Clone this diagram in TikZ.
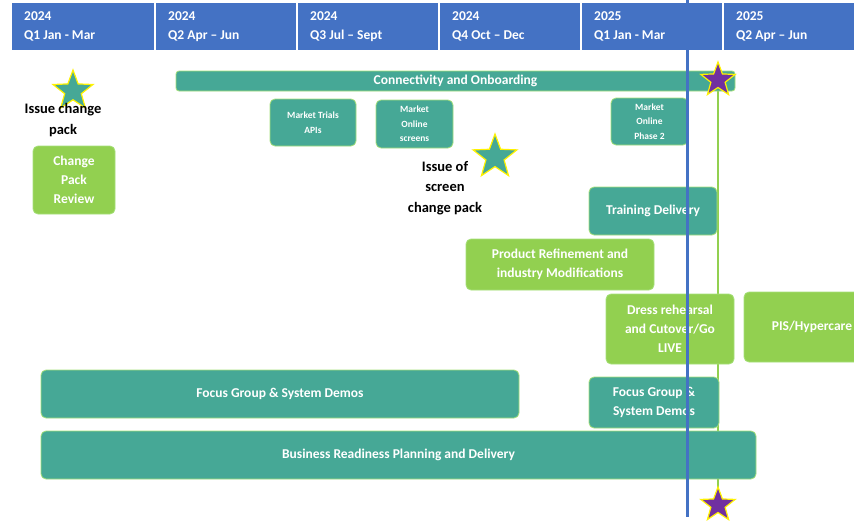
\documentclass[tikz,border=0pt]{standalone}
\usepackage{fontspec}
\setmainfont{Carlito}
\usetikzlibrary{shapes.geometric}

\definecolor{hdrblue}{HTML}{4472C4}
\definecolor{tealbox}{HTML}{46A896}
\definecolor{limebox}{HTML}{92D050}
\definecolor{limeedge}{HTML}{A6E07A}
\definecolor{starpurple}{HTML}{7030A0}
\definecolor{staredge}{HTML}{FFF200}

\begin{document}
\begin{tikzpicture}[x=1pt, y=-1pt,
  hdr/.style={fill=hdrblue, minimum height=47pt,
    anchor=north west, inner sep=0pt},
  hdrtxt/.style={text=white, font=\bfseries\fontsize{13.5}{19}\selectfont,
    align=left, anchor=north west, inner sep=0pt},
  bar/.style={fill=tealbox, draw=limeedge, line width=0.8pt, rounded corners=5pt,
    text=white, align=center, inner sep=0pt,
    font=\bfseries\fontsize{13.5}{19}\selectfont},
  gbar/.style={bar, fill=limebox},
  tiny/.style={font=\bfseries\fontsize{9.5}{14.5}\selectfont},
  note/.style={align=center, font=\bfseries\fontsize{14.5}{20.5}\selectfont},
  tstar/.style={star, star points=5, star point ratio=2.4, fill=tealbox,
    draw=staredge, line width=1.2pt, inner sep=0pt},
  pstar/.style={tstar, fill=starpurple},
]
\useasboundingbox (0,0) rectangle (854,522);
\fill[white] (0,0) rectangle (854,522);

% quarter header
\foreach \x/\w/\yr/\qtr [count=\i] in {12/142/2024/Q1 Jan - Mar, 156/140/2024/Q2 Apr -- Jun,
    298/140/2024/Q3 Jul -- Sept, 440/140/2024/Q4 Oct -- Dec, 582/140/2025/Q1 Jan - Mar,
    724/140/2025/Q2 Apr -- Jun}{
  \node[hdr, minimum width=\w pt] (q\i) at (\x,3) {};
  \node[hdrtxt] at ([xshift=12pt, yshift=-8pt]q\i.north west) {\yr\\\qtr};
}

% go-live line (behind the bars)
\coordinate (gtop) at (718,80);
\coordinate (gbot) at (718,505);
\draw[limebox, line width=2.6pt] (gtop) -- (gbot);

% bars
\node[bar, minimum width=559pt, minimum height=20pt, rounded corners=3pt] (conn) at (455.5,81) {Connectivity and Onboarding};
\node[gbar, minimum width=82pt, minimum height=68pt] (cpr) at (74,180) {Change\\Pack\\Review};
\node[bar, tiny, minimum width=86pt, minimum height=47pt] (mta) at (313,122.5) {Market Trials\\APIs};
\node[bar, tiny, minimum width=77pt, minimum height=48pt] (mos) at (414.5,124) {Market\\Online\\screens};
\node[bar, tiny, minimum width=77pt, minimum height=47pt] (mop) at (649.5,121.5) {Market\\Online\\Phase 2};
\node[bar, minimum width=128pt, minimum height=48pt] (train) at (653,211) {Training Delivery};
\node[gbar, minimum width=188pt, minimum height=51pt] (prod) at (560,264.5) {Product Refinement and\\industry Modifications};
\node[gbar, minimum width=128pt, minimum height=70pt] (dress) at (670,329) {Dress rehearsal\\and Cutover/Go\\LIVE};
\node[gbar, minimum width=136pt, minimum height=70pt] (pis) at (812,327) {PIS/Hypercare};
\node[bar, minimum width=478pt, minimum height=48pt] (fg1) at (280,394) {Focus Group \& System Demos};
\node[bar, minimum width=130pt, minimum height=51pt] (fg2) at (654,402.5) {Focus Group \&\\System Demos};
\node[bar, minimum width=715pt, minimum height=48pt] (brp) at (398.5,455) {Business Readiness Planning and Delivery};

% today line
\coordinate (btop) at (687,0);
\coordinate (bbot) at (687,517);
\draw[hdrblue, line width=3pt] (btop) -- (bbot);

% milestones
\node[tstar, minimum size=42pt] (s1) at (73,91) {};
\node[note] (s1txt) at (63,120) {Issue change\\pack};
\node[tstar, minimum size=46pt] (s2) at (495,157) {};
\node[note] (s2txt) at (445,188) {Issue of\\screen\\change pack};
\node[pstar, minimum size=36pt] (p1) at (gtop) {};
\node[pstar, minimum size=36pt] (p2) at (gbot) {};
\end{tikzpicture}
\end{document}
